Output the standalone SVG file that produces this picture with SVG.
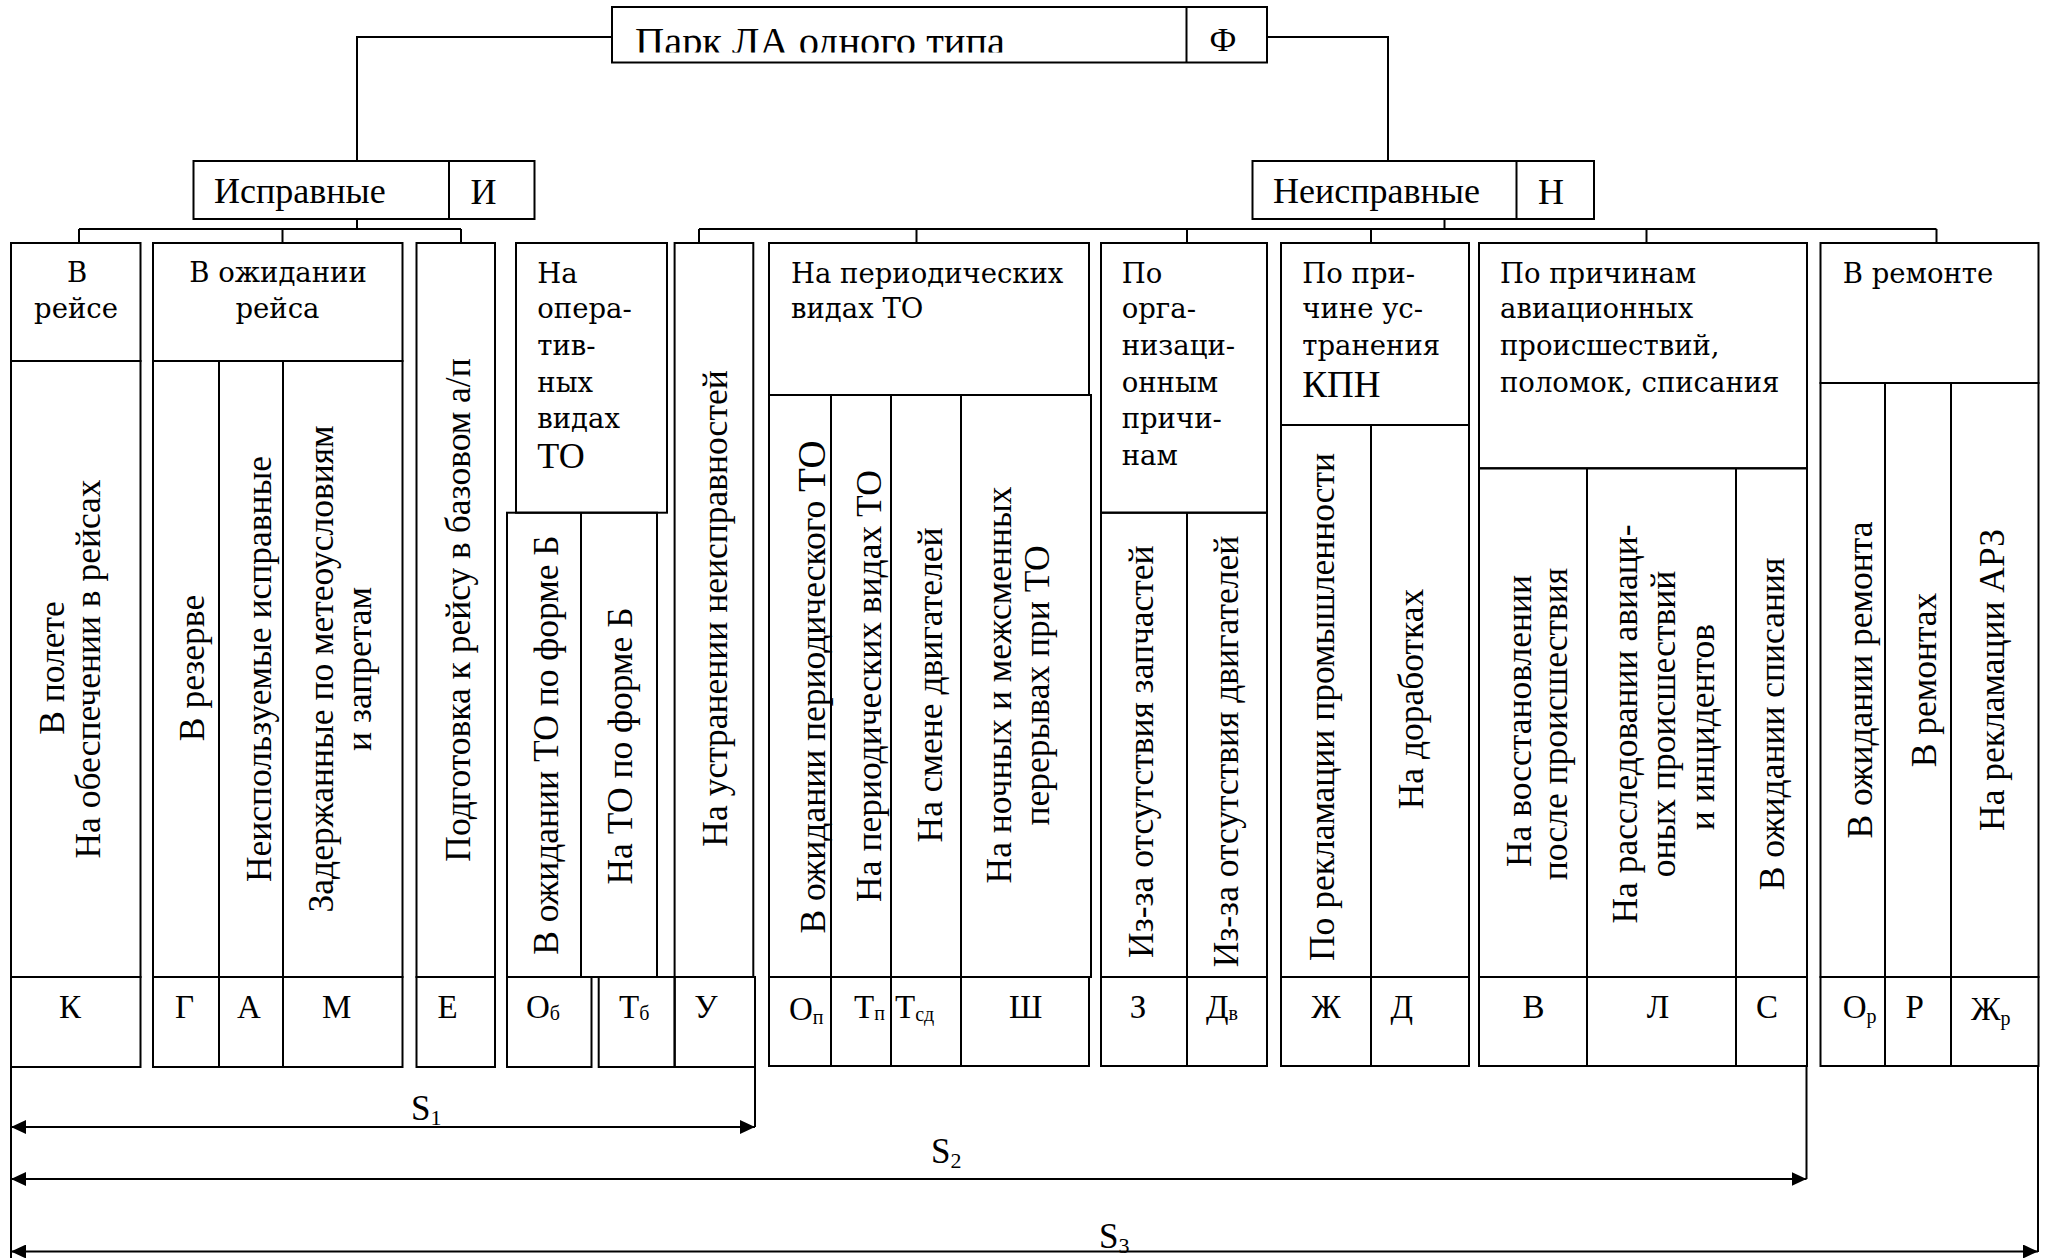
<svg xmlns="http://www.w3.org/2000/svg" width="2050" height="1258" viewBox="0 0 2050 1258">
<style>
.b{fill:none;stroke:#000;stroke-width:2}
.c{fill:none;stroke:#000;stroke-width:2}
.t{font-family:"Liberation Serif","Times New Roman",serif;fill:#000}
.h{font-family:"DejaVu Serif","Liberation Serif",serif;font-size:27.5px;fill:#000}
.v{font-family:"Liberation Serif","Times New Roman",serif;font-size:35.5px;fill:#000;text-anchor:middle}
.l{font-family:"Liberation Serif","Times New Roman",serif;font-size:33px;fill:#000}
.m{text-anchor:middle}
.s{font-size:20px}
</style>
<defs>
<marker id="ar" viewBox="0 0 15 14" refX="15" refY="7" markerUnits="userSpaceOnUse" markerWidth="15" markerHeight="14" orient="auto-start-reverse">
<path d="M0,0 L15,7 L0,14 z" fill="#000"/>
</marker>
<clipPath id="tc"><rect x="612" y="0" width="575" height="52.5"/></clipPath>
</defs>
<rect width="2050" height="1258" fill="#fff"/>

<g id="connectors">
<polyline class="c" points="612,37 357,37 357,161"/>
<polyline class="c" points="1267,37 1388,37 1388,161"/>
<line class="c" x1="357" y1="219" x2="357" y2="229"/>
<line class="c" x1="79" y1="229" x2="461" y2="229"/>
<line class="c" x1="79" y1="229" x2="79" y2="243"/>
<line class="c" x1="282.5" y1="229" x2="282.5" y2="243"/>
<line class="c" x1="461" y1="229" x2="461" y2="243"/>
<line class="c" x1="1444.5" y1="219" x2="1444.5" y2="229"/>
<line class="c" x1="699" y1="229" x2="1936.5" y2="229"/>
<line class="c" x1="699" y1="229" x2="699" y2="243"/>
<line class="c" x1="916.5" y1="229" x2="916.5" y2="243"/>
<line class="c" x1="1187" y1="229" x2="1187" y2="243"/>
<line class="c" x1="1371" y1="229" x2="1371" y2="243"/>
<line class="c" x1="1646.5" y1="229" x2="1646.5" y2="243"/>
<line class="c" x1="1936.5" y1="229" x2="1936.5" y2="243"/>
<line class="c" x1="11" y1="1067" x2="11" y2="1258"/>
<line class="c" x1="755" y1="1067" x2="755" y2="1127"/>
<line class="c" x1="1806.5" y1="1067" x2="1806.5" y2="1179"/>
<line class="c" x1="2038" y1="1067" x2="2038" y2="1252"/>
<line class="c" x1="11" y1="1127" x2="755" y2="1127" marker-start="url(#ar)" marker-end="url(#ar)"/>
<line class="c" x1="11" y1="1179" x2="1806.5" y2="1179" marker-start="url(#ar)" marker-end="url(#ar)"/>
<line class="c" x1="11" y1="1251.5" x2="2038" y2="1251.5" marker-start="url(#ar)" marker-end="url(#ar)"/>
<text class="t" x="411" y="1120" font-size="35">S<tspan font-size="22" dy="5">1</tspan></text>
<text class="t" x="931" y="1163" font-size="35">S<tspan font-size="22" dy="5">2</tspan></text>
<text class="t" x="1099" y="1248" font-size="35">S<tspan font-size="22" dy="5">3</tspan></text>
</g>

<g id="node-park">
<rect class="b" x="612" y="7" width="655" height="55.5"/>
<line class="b" x1="1186.5" y1="7" x2="1186.5" y2="62.5"/>
<text class="t" x="635" y="54.5" font-size="39" textLength="370" lengthAdjust="spacingAndGlyphs" clip-path="url(#tc)">Парк ЛА одного типа</text>
<text class="t m" x="1223" y="51" font-size="34">Ф</text>
</g>

<g id="node-ispr">
<rect class="b" x="193.5" y="161" width="341" height="58"/>
<line class="b" x1="449" y1="161" x2="449" y2="219"/>
<text class="t" x="214" y="203" font-size="36">Исправные</text>
<text class="t" x="470.5" y="204" font-size="36">И</text>
</g>

<g id="node-neispr">
<rect class="b" x="1252.5" y="161" width="341.5" height="58"/>
<line class="b" x1="1516.5" y1="161" x2="1516.5" y2="219"/>
<text class="t" x="1273" y="203" font-size="36">Неисправные</text>
<text class="t" x="1538" y="204" font-size="36">Н</text>
</g>

<g id="node-vreise">
<rect class="b" x="11" y="243" width="129.5" height="118"/>
<rect class="b" x="11" y="361" width="129.5" height="616"/>
<rect class="b" x="11" y="977" width="129.5" height="90"/>
<text class="h m" x="77" y="282.3">В</text>
<text class="h m" x="76" y="318.3">рейсе</text>
<text class="v" transform="translate(63.7,668) rotate(-90)">В полете</text>
<text class="v" transform="translate(99.5,669) rotate(-90)">На обеспечении в рейсах</text>
<text class="l m" x="70" y="1018">К</text>
</g>

<g id="node-ozhid">
<rect class="b" x="153" y="243" width="249.5" height="118"/>
<rect class="b" x="153" y="361" width="249.5" height="616"/>
<line class="b" x1="219" y1="361" x2="219" y2="1067"/>
<line class="b" x1="283" y1="361" x2="283" y2="1067"/>
<rect class="b" x="153" y="977" width="249.5" height="90"/>
<text class="h m" x="278" y="282.3">В ожидании</text>
<text class="h m" x="277.5" y="318.3">рейса</text>
<text class="v" transform="translate(204,668) rotate(-90)">В резерве</text>
<text class="v" transform="translate(271,669) rotate(-90)">Неиспользуемые исправные</text>
<text class="v" transform="translate(333,669) rotate(-90)">Задержанные по метеоусловиям</text>
<text class="v" transform="translate(370.6,669) rotate(-90)">и запретам</text>
<text class="l m" x="184.6" y="1018">Г</text>
<text class="l m" x="249" y="1018">А</text>
<text class="l m" x="336.6" y="1018">М</text>
</g>

<g id="node-podg">
<rect class="b" x="416.5" y="243" width="78.5" height="734"/>
<rect class="b" x="416.5" y="977" width="78.5" height="90"/>
<text class="v" transform="translate(470,610) rotate(-90)">Подготовка к рейсу в базовом а/п</text>
<text class="l m" x="447.7" y="1018">Е</text>
</g>

<g id="node-oper">
<rect class="b" x="516" y="243" width="151" height="269.7"/>
<rect class="b" x="507" y="512.7" width="150" height="464.3"/>
<line class="b" x1="581" y1="512.7" x2="581" y2="977"/>
<rect class="b" x="507" y="977" width="84.5" height="90"/>
<rect class="b" x="598.7" y="977" width="76" height="90"/>
<text class="h" x="537.3" y="283.3">На</text>
<text class="h" x="537.3" y="318.3">опера-</text>
<text class="h" x="537.3" y="355">тив-</text>
<text class="h" x="537.3" y="391.7">ных</text>
<text class="h" x="537.3" y="428.3">видах</text>
<text class="t" x="537.3" y="468.3" font-size="36">ТО</text>
<text class="v" transform="translate(558,745) rotate(-90)">В ожидании ТО по форме Б</text>
<text class="v" transform="translate(632,746) rotate(-90)">На ТО по форме Б</text>
<text class="l" x="526" y="1018">О<tspan class="s" dy="2">б</tspan></text>
<text class="l" x="619" y="1018">Т<tspan class="s" dy="2">б</tspan></text>
</g>

<g id="node-ustr">
<rect class="b" x="674.6" y="243" width="78.7" height="734"/>
<rect class="b" x="674.6" y="977" width="80.4" height="90"/>
<text class="v" transform="translate(727,608.5) rotate(-90)">На устранении неисправностей</text>
<text class="l m" x="706" y="1018">У</text>
</g>

<g id="node-period">
<rect class="b" x="769" y="243" width="320" height="152"/>
<rect class="b" x="769" y="395" width="322" height="582"/>
<line class="b" x1="831" y1="395" x2="831" y2="1066"/>
<line class="b" x1="891" y1="395" x2="891" y2="1066"/>
<line class="b" x1="961" y1="395" x2="961" y2="1066"/>
<rect class="b" x="769" y="977" width="320" height="89"/>
<text class="h" x="791" y="283.3">На периодических</text>
<text class="h" x="791" y="318.3">видах ТО</text>
<text class="v" transform="translate(825,687) rotate(-90)">В ожидании периодического <tspan font-size="39">ТО</tspan></text>
<text class="v" transform="translate(880.5,686) rotate(-90)">На периодических видах ТО</text>
<text class="v" transform="translate(942,685) rotate(-90)">На смене двигателей</text>
<text class="v" transform="translate(1011,685) rotate(-90)">На ночных и межсменных</text>
<text class="v" transform="translate(1049,685.5) rotate(-90)">перерывах при ТО</text>
<text class="l" x="789" y="1020">О<tspan class="s" dy="4">п</tspan></text>
<text class="l" x="854" y="1018">Т<tspan class="s" dy="2">п</tspan></text>
<text class="l" x="895" y="1018">Т<tspan class="s" dy="3">сд</tspan></text>
<text class="l m" x="1025.6" y="1018">Ш</text>
</g>

<g id="node-org">
<rect class="b" x="1101" y="243" width="166" height="269.7"/>
<rect class="b" x="1101" y="512.7" width="166" height="464.3"/>
<line class="b" x1="1187" y1="512.7" x2="1187" y2="1066"/>
<rect class="b" x="1101" y="977" width="166" height="89"/>
<text class="h" x="1121.7" y="283.3">По</text>
<text class="h" x="1121.7" y="318.3">орга-</text>
<text class="h" x="1121.7" y="355">низаци-</text>
<text class="h" x="1121.7" y="391.7">онным</text>
<text class="h" x="1121.7" y="428.3">причи-</text>
<text class="h" x="1121.7" y="465">нам</text>
<text class="v" transform="translate(1152.5,751.7) rotate(-90)">Из-за отсутствия запчастей</text>
<text class="v" transform="translate(1237.5,751.6) rotate(-90)">Из-за отсутствия двигателей</text>
<text class="l m" x="1138" y="1018">З</text>
<text class="l" x="1206" y="1018">Д<tspan class="s" dy="2">в</tspan></text>
</g>

<g id="node-kpn">
<rect class="b" x="1281" y="243" width="188" height="182"/>
<rect class="b" x="1281" y="425" width="188" height="552"/>
<line class="b" x1="1371" y1="425" x2="1371" y2="1066"/>
<rect class="b" x="1281" y="977" width="188" height="89"/>
<text class="h" x="1302.3" y="283.3">По при-</text>
<text class="h" x="1302.3" y="318.3">чине ус-</text>
<text class="h" x="1302.3" y="355">транения</text>
<text class="t" x="1302.3" y="396.7" font-size="37">КПН</text>
<text class="v" transform="translate(1333.5,707) rotate(-90)">По рекламации промышленности</text>
<text class="v" transform="translate(1423,699) rotate(-90)">На доработках</text>
<text class="l m" x="1326" y="1018">Ж</text>
<text class="l m" x="1401.8" y="1018">Д</text>
</g>

<g id="node-avia">
<rect class="b" x="1479" y="243" width="328" height="225.3"/>
<rect class="b" x="1479" y="468.3" width="328" height="508.7"/>
<line class="b" x1="1587" y1="468.3" x2="1587" y2="1066"/>
<line class="b" x1="1736" y1="468.3" x2="1736" y2="1066"/>
<rect class="b" x="1479" y="977" width="328" height="89"/>
<text class="h" x="1500" y="283.3">По причинам</text>
<text class="h" x="1500" y="318.3">авиационных</text>
<text class="h" x="1500" y="355">происшествий,</text>
<text class="h" x="1500" y="391.7">поломок, списания</text>
<text class="v" transform="translate(1531,721) rotate(-90)">На восстановлении</text>
<text class="v" transform="translate(1567,724) rotate(-90)">после происшествия</text>
<text class="v" transform="translate(1636.5,724) rotate(-90)">На расследовании авиаци-</text>
<text class="v" transform="translate(1675.4,724) rotate(-90)">оных происшествий</text>
<text class="v" transform="translate(1714.3,727) rotate(-90)">и инцидентов</text>
<text class="v" transform="translate(1784,724) rotate(-90)">В ожидании списания</text>
<text class="l m" x="1533.4" y="1018">В</text>
<text class="l m" x="1658" y="1018">Л</text>
<text class="l m" x="1767" y="1018">С</text>
</g>

<g id="node-remont">
<rect class="b" x="1820.5" y="243" width="218" height="140"/>
<rect class="b" x="1820.5" y="383" width="218" height="594"/>
<line class="b" x1="1885" y1="383" x2="1885" y2="1066"/>
<line class="b" x1="1951" y1="383" x2="1951" y2="1066"/>
<rect class="b" x="1820.5" y="977" width="218" height="89"/>
<text class="h" x="1842.7" y="283.3">В ремонте</text>
<text class="v" transform="translate(1872,680) rotate(-90)">В ожидании ремонта</text>
<text class="v" transform="translate(1936,680) rotate(-90)">В ремонтах</text>
<text class="v" transform="translate(2004,680) rotate(-90)">На рекламации АРЗ</text>
<text class="l" x="1842.7" y="1018">О<tspan class="s" dy="5">р</tspan></text>
<text class="l m" x="1914.7" y="1018">Р</text>
<text class="l" x="1971" y="1020">Ж<tspan class="s" dy="5">р</tspan></text>
</g>
</svg>
